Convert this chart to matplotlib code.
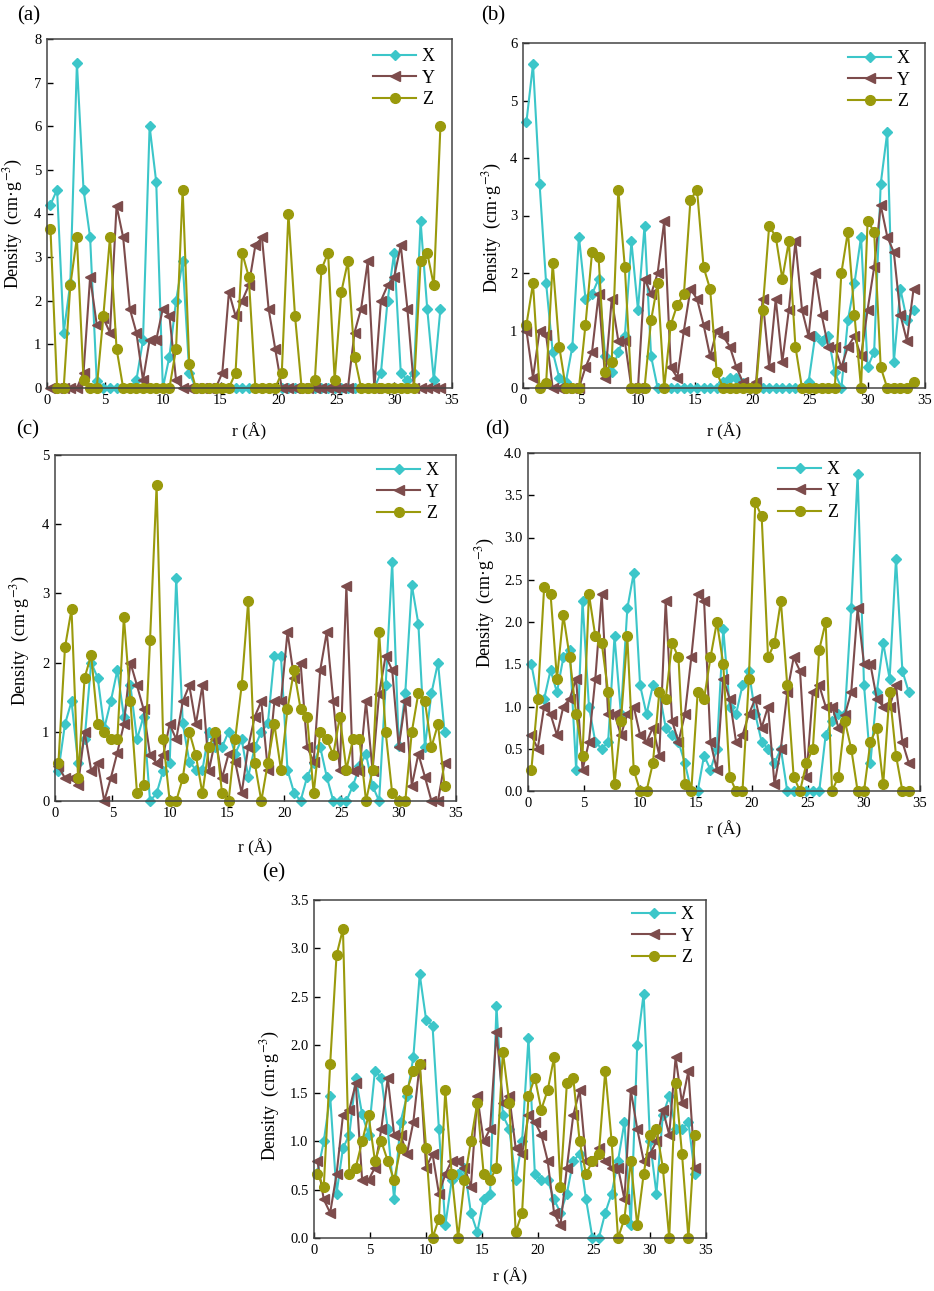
import numpy as np
import matplotlib
matplotlib.use("Agg")
import matplotlib.pyplot as plt

plt.rcParams['font.family'] = ['Liberation Serif', 'DejaVu Serif']
plt.rcParams['mathtext.fontset'] = 'stix'

# sampling grid along r (Angstrom), 60 bins
r = np.linspace(0.3, 34.0, 60)

# ---- panel (a)
X_a = [4.2, 4.55, 1.27, 2.4, 7.45, 4.55, 3.45, 0.15, 0, 0, 0, 0, 0, 0.18, 1.1, 6.0, 4.72, 0, 0.72, 2.0,
       2.9, 0.35, 0, 0, 0, 0, 0, 0, 0, 0, 0, 0, 0, 0, 0, 0, 0, 0, 0, 0,
       0, 0, 0, 0, 0, 0, 0, 0, 0, 0, 0.35, 2.0, 3.1, 0.35, 0.18, 0.35, 3.82, 1.82, 0.18, 1.82]
Y_a = [0, 0, 0, 0, 0, 0.35, 2.55, 1.45, 1.6, 1.27, 4.18, 3.45, 1.82, 1.27, 0.18, 1.1, 1.1, 1.82, 1.65, 0.18,
       0, 0, 0, 0, 0, 0, 0.35, 2.2, 1.65, 2.0, 2.35, 3.27, 3.45, 1.82, 0.9, 0, 0, 0, 0, 0,
       0, 0, 0, 0, 0, 0, 1.27, 1.82, 2.9, 0, 2.0, 2.35, 2.55, 3.27, 1.82, 0, 0, 0, 0, 0]
Z_a = [3.65, 0, 0, 2.35, 3.45, 0.18, 0, 0, 1.65, 3.45, 0.9, 0, 0, 0, 0, 0, 0, 0, 0, 0.9,
       4.55, 0.55, 0, 0, 0, 0, 0, 0, 0.35, 3.1, 2.55, 0, 0, 0, 0, 0.35, 4.0, 1.65, 0, 0,
       0.18, 2.72, 3.1, 0.18, 2.2, 2.9, 0.72, 0, 0, 0, 0, 0, 0, 0, 0, 0, 2.9, 3.1, 2.35, 6.0]

# ---- panel (b)
X_b = [4.63, 5.63, 3.55, 1.82, 0.63, 0.18, 0.1, 0.72, 2.63, 1.55, 1.63, 1.9, 0.55, 0.27, 0.63, 0.9, 2.55, 1.36, 2.82, 0.55,
       0, 0, 0, 0, 0, 0, 0, 0, 0, 0, 0.1, 0.18, 0.18, 0.08, 0, 0, 0, 0, 0, 0,
       0, 0, 0, 0.1, 0.9, 0.82, 0.9, 0.27, 0, 1.18, 1.82, 2.63, 0.36, 0.63, 3.55, 4.45, 0.45, 1.72, 1.18, 1.36]
Y_b = [1.0, 0.18, 1.0, 0.92, 0, 0, 0, 0, 0, 0.36, 0.63, 1.63, 0.18, 1.55, 0.82, 0.82, 0, 0, 1.9, 1.63,
       2.0, 2.9, 0.36, 0.18, 1.0, 1.72, 1.55, 1.1, 0.55, 1.0, 0.9, 0.72, 0.36, 0.1, 0, 0.1, 1.55, 0.36, 1.55, 0.45,
       1.36, 2.55, 1.36, 0.9, 2.0, 1.27, 0.72, 0.72, 0.36, 0.72, 0.9, 0.55, 1.36, 2.1, 3.18, 2.63, 2.36, 1.27, 0.82, 1.72]
Z_b = [1.1, 1.82, 0, 0.08, 2.18, 0.72, 0, 0, 0, 1.1, 2.36, 2.27, 0.27, 0.45, 3.45, 2.1, 0, 0, 0, 1.18,
       1.82, 0, 1.1, 1.45, 1.63, 3.27, 3.45, 2.1, 1.72, 0.27, 0, 0, 0, 0, 0, 0, 1.36, 2.82, 2.63, 1.9,
       2.55, 0.72, 0, 0, 0, 0, 0, 0, 2.0, 2.72, 1.27, 0, 2.9, 2.72, 0.36, 0, 0, 0, 0, 0.1]

# ---- panel (c)
X_c = [0.44, 1.11, 1.44, 0.55, 0.89, 2.0, 1.78, 1.05, 1.44, 1.89, 1.22, 1.67, 0.89, 1.22, 0, 0.11, 0.44, 0.55, 3.22, 1.12,
       0.57, 0.45, 0.45, 1.0, 0.78, 0.78, 1.0, 0.68, 0.89, 0.35, 0.78, 1.0, 1.12, 2.1, 2.1, 0.45, 0.12, 0, 0.35, 0.55,
       0.78, 0.35, 0, 0, 0, 0.22, 0.5, 0.68, 0.22, 0, 1.67, 3.45, 0.8, 1.56, 3.12, 2.56, 0.78, 1.56, 2.0, 1.0]
Y_c = [0.5, 0.33, 0.33, 0.23, 1.0, 0.44, 0.55, 0, 0.33, 0.7, 1.11, 2.0, 1.67, 1.33, 0.66, 0.55, 0.66, 1.11, 0.89, 1.44,
       1.67, 1.11, 1.67, 0.44, 0.9, 0.33, 0.68, 0.57, 0.11, 0.78, 1.22, 1.44, 0.45, 1.44, 1.44, 2.44, 1.78, 2.0, 0.78, 0.57,
       1.89, 2.44, 1.44, 0.45, 3.11, 0.44, 0.44, 1.44, 0.44, 1.55, 2.1, 1.89, 0.78, 1.44, 0.22, 0.68, 0.35, 0, 0, 0.55]
Z_c = [0.55, 2.22, 2.77, 0.33, 1.78, 2.11, 1.11, 1.0, 0.89, 0.89, 2.66, 1.44, 0.12, 0.23, 2.33, 4.56, 0.89, 0, 0, 0.33,
       1.0, 0.66, 0.11, 0.78, 1.0, 0.11, 0, 0.89, 1.67, 2.89, 0.55, 0, 0.55, 1.11, 0.45, 1.33, 1.89, 1.33, 1.22, 0.11,
       1.0, 0.89, 0.67, 1.22, 0.45, 0.89, 0.89, 0, 0.45, 2.44, 1.0, 0.11, 0, 0, 1.0, 1.56, 1.44, 0.78, 1.11, 0.22]

# ---- panel (d)
X_d = [1.5, 1.1, 1.09, 1.43, 1.17, 1.58, 1.67, 0.25, 2.25, 1.0, 0.58, 0.5, 0.58, 1.83, 0.91, 2.16, 2.58, 1.25, 0.91, 1.25,
       1.17, 0.75, 0.66, 0.58, 0.33, 0, 0, 0.42, 0.25, 0.5, 1.92, 1.0, 0.91, 1.25, 1.42, 0.91, 0.58, 0.5, 0.33, 0.5,
       0, 0, 0, 0, 0, 0, 0.66, 0.83, 0.91, 0.91, 2.16, 3.75, 1.25, 0.33, 1.17, 1.75, 1.33, 2.75, 1.42, 1.17]
Y_d = [0.66, 0.5, 1.0, 0.91, 0.66, 1.0, 1.09, 1.33, 0.25, 0.58, 1.33, 2.33, 0.91, 0.91, 0.66, 0.91, 1.0, 0.66, 0.58, 0.75,
       0.42, 2.25, 0.83, 0.58, 0.91, 1.58, 2.33, 2.25, 0.58, 0.25, 1.33, 1.09, 0.58, 0.66, 0.91, 1.09, 0.75, 1.0, 0.08, 0.5,
       1.17, 1.58, 1.42, 0.17, 1.17, 1.25, 1.0, 1.0, 0.75, 0.9, 1.17, 2.16, 1.5, 1.5, 1.09, 1.0, 1.0, 1.25, 0.58, 0.33]
Z_d = [0.25, 1.09, 2.41, 2.33, 1.33, 2.08, 1.58, 0.91, 0.42, 2.33, 1.83, 1.75, 1.17, 0.08, 0.83, 1.83, 0.25, 0, 0, 0.33,
       1.17, 1.09, 1.75, 1.58, 0.08, 0, 1.17, 1.09, 1.58, 2.0, 1.5, 0.17, 0, 0, 1.33, 3.42, 3.25, 1.58, 1.75, 2.25,
       1.25, 0.17, 0, 0.33, 0.5, 1.67, 2.0, 0, 0.17, 0.83, 0.5, 0, 0, 0.58, 0.75, 0.08, 1.17, 0.42, 0, 0]

# ---- panel (e)
X_e = [0.67, 1.0, 1.47, 0.46, 0.93, 1.07, 1.66, 1.28, 1.07, 1.73, 1.66, 1.13, 0.4, 1.2, 1.47, 1.87, 2.73, 2.26, 2.2, 1.13,
       0.13, 0.6, 0.66, 0.73, 0.26, 0.06, 0.4, 0.46, 2.4, 1.27, 1.13, 0.6, 1.0, 2.07, 0.66, 0.6, 0.6, 0.4, 0.26, 0.46,
       0.8, 0.87, 0.4, 0, 0, 0.26, 0.46, 0.8, 1.2, 0.13, 2.0, 2.53, 1.0, 0.46, 1.27, 1.47, 1.13, 1.13, 1.2, 0.66]
Y_e = [0.8, 0.4, 0.26, 0.66, 1.27, 1.33, 1.6, 0.6, 0.6, 0.73, 1.13, 1.66, 1.07, 1.07, 0.87, 1.2, 1.8, 0.73, 0.87, 0.46,
       0.66, 0.8, 0.8, 0.73, 0.53, 1.47, 1.0, 1.13, 2.13, 1.4, 1.47, 0.93, 0.87, 1.27, 1.2, 1.07, 0.8, 0.26, 0.13, 0.73,
       1.27, 1.53, 0.8, 0.8, 0.93, 0.8, 0.73, 0.73, 0.4, 1.53, 1.13, 0.8, 0.87, 1.0, 1.33, 1.07, 1.87, 1.4, 1.73, 0.73]
Z_e = [0.66, 0.53, 1.8, 2.93, 3.2, 0.66, 0.73, 1.0, 1.27, 0.8, 1.0, 0.8, 0.6, 0.93, 1.53, 1.73, 1.8, 0.93, 0, 0.2,
       1.53, 0.66, 0, 0.6, 1.0, 1.4, 0.66, 0.6, 0.73, 1.93, 1.4, 0.06, 0.26, 1.47, 1.66, 1.33, 1.53, 1.87, 0.53, 1.6,
       1.66, 1.0, 0.66, 0.8, 0.87, 1.73, 1.0, 0, 0.2, 0.8, 0.13, 0.66, 1.07, 1.13, 0.73, 0, 1.6, 0.87, 0, 1.07]

panels = {
    '(a)': (X_a, Y_a, Z_a, 8, 1.0),
    '(b)': (X_b, Y_b, Z_b, 6, 1.0),
    '(c)': (X_c, Y_c, Z_c, 5, 1.0),
    '(d)': (X_d, Y_d, Z_d, 4.0, 0.5),
    '(e)': (X_e, Y_e, Z_e, 3.5, 0.5),
}

W, H = 934, 1291
# axes boxes in pixels: left, top, right, bottom
boxes = {
    '(a)': (47, 39, 452, 388),
    '(b)': (523, 43, 925, 388),
    '(c)': (55, 455, 456, 801),
    '(d)': (528, 453, 920, 791),
    '(e)': (314, 900, 706, 1238),
}
tag_pos = {'(a)': (29, 16), '(b)': (493, 16), '(c)': (28, 430), '(d)': (497, 430), '(e)': (274, 873)}
xlab_y = {'(a)': 432, '(b)': 432, '(c)': 848, '(d)': 830, '(e)': 1277}
ylab_pos = {'(a)': (13, 223), '(b)': (492, 227), '(c)': (20, 640), '(d)': (485, 602), '(e)': (270, 1095)}
leg_pos = {'(a)': (373, 48), '(b)': (848, 50), '(c)': (377, 462), '(d)': (778, 461), '(e)': (632, 906)}

c_x = '#3cc6c9'
c_y = '#7d4c4c'
c_z = '#9a9a0c'

fig = plt.figure(figsize=(W / 100, H / 100), dpi=100)

for name, (xs, ys, zs, ymax, ystep) in panels.items():
    l, t, rr, b = boxes[name]
    ax = fig.add_axes([l / W, 1 - b / H, (rr - l) / W, (b - t) / H])
    ax.plot(r, xs, color=c_x, marker='D', ms=5.5, lw=1.5, label='X', clip_on=False)
    ax.plot(r, ys, color=c_y, marker='<', ms=7, lw=1.5, label='Y', clip_on=False)
    ax.plot(r, zs, color=c_z, marker='o', ms=7, lw=1.5, label='Z', clip_on=False)
    ax.set_xlim(0, 35)
    ax.set_ylim(0, ymax)
    ax.set_xticks(np.arange(0, 36, 5))
    yt = np.arange(0, ymax + ystep / 2, ystep)
    ax.set_yticks(yt)
    if ystep < 1:
        ax.set_yticklabels([f'{v:.1f}' for v in yt])
    ax.tick_params(direction='in', length=4, width=1, labelsize=10.5, top=False, right=False, pad=4)
    for sp in ax.spines.values():
        sp.set_color('#444444')
        sp.set_linewidth(1.1)

    ax.set_xlabel('r (Å)', fontsize=12.5)
    ax.xaxis.label.set_va('center')
    ax.xaxis.set_label_coords(0.5, -(xlab_y[name] - b) / (b - t))
    ax.set_ylabel('Density  (cm·g$^{-3}$)', fontsize=13)
    ax.yaxis.label.set_va('center')
    yx, yy = ylab_pos[name]
    ax.yaxis.set_label_coords((yx - l) / (rr - l), (b - yy) / (b - t))

    lx, ly = leg_pos[name]
    ax.legend(loc='upper left', bbox_to_anchor=((lx - l) / (rr - l), (b - ly) / (b - t)),
              frameon=False, fontsize=13, handlelength=2.4, handletextpad=0.3,
              labelspacing=0.25, borderpad=0, borderaxespad=0)

    tx, ty = tag_pos[name]
    fig.text(tx / W, 1 - ty / H, name, fontsize=15, ha='center', va='center')

fig.savefig('out.png', dpi=100)
